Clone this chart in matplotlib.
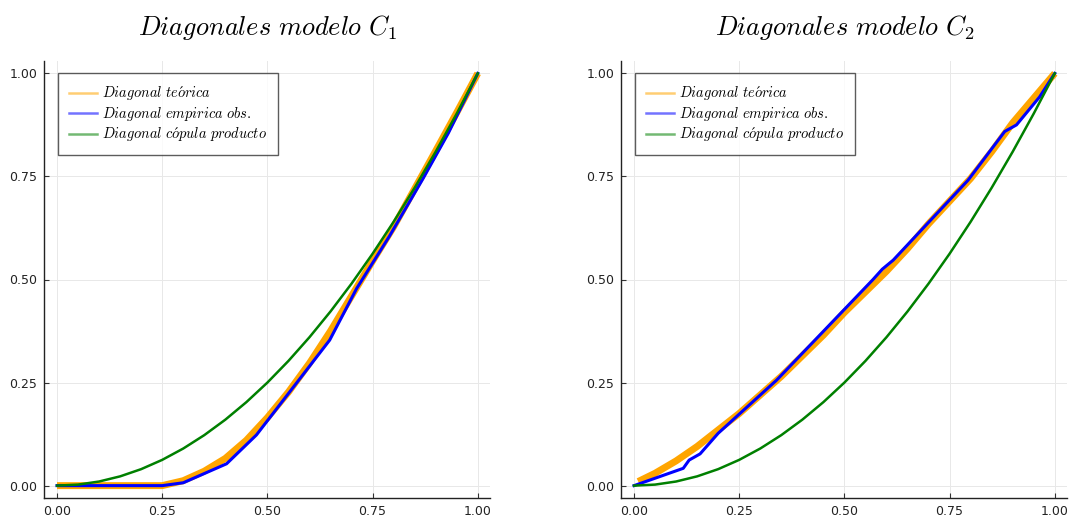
import matplotlib.pyplot as plt
from matplotlib.lines import Line2D

plt.rcParams["mathtext.fontset"] = "cm"
plt.rcParams["font.family"] = "DejaVu Sans"

# grid of t values where the smooth diagonals were read
T_GRID = [0.0, 0.05, 0.10, 0.15, 0.20, 0.25, 0.30, 0.35, 0.40, 0.45, 0.50,
          0.55, 0.60, 0.65, 0.70, 0.75, 0.80, 0.85, 0.90, 0.95, 1.0]

# diagonal of the product copula (same in both panels)
PROD_DIAG = [0.0, 0.0025, 0.01, 0.0225, 0.04, 0.0625, 0.09, 0.1225, 0.16,
             0.2025, 0.25, 0.3025, 0.36, 0.4225, 0.49, 0.5625, 0.64, 0.7225,
             0.81, 0.9025, 1.0]

# model C1
C1_THEO = [0.0, 0.0, 0.0, 0.0, 0.0, 0.0, 0.012, 0.035, 0.066, 0.11, 0.165,
           0.227, 0.297, 0.375, 0.46, 0.545, 0.628, 0.72, 0.812, 0.905, 1.0]
C1_EMP_X = [0.0, 0.25, 0.30, 0.403, 0.474, 0.648, 0.712, 0.79, 0.87, 0.93, 1.0]
C1_EMP_Y = [0.0, 0.0, 0.007, 0.053, 0.123, 0.353, 0.478, 0.605, 0.745, 0.855, 1.0]

# model C2
C2_THEO_X = [0.01, 0.05, 0.10, 0.15, 0.20, 0.25, 0.30, 0.35, 0.40, 0.45, 0.50,
             0.55, 0.60, 0.65, 0.70, 0.75, 0.80, 0.85, 0.90, 0.95, 1.0]
C2_THEO = [0.01, 0.03, 0.06, 0.095, 0.135, 0.175, 0.22, 0.265, 0.315, 0.365,
           0.42, 0.47, 0.52, 0.575, 0.635, 0.69, 0.745, 0.81, 0.88, 0.94, 1.0]
C2_EMP_X = [0.0, 0.117, 0.131, 0.157, 0.20, 0.339, 0.568, 0.59, 0.616, 0.794,
            0.881, 0.909, 0.964, 1.0]
C2_EMP_Y = [0.0, 0.042, 0.062, 0.077, 0.127, 0.256, 0.50, 0.525, 0.547, 0.741,
            0.859, 0.875, 0.943, 1.0]

TICKS = [0.0, 0.25, 0.5, 0.75, 1.0]
TICK_LABELS = ["0.00", "0.25", "0.50", "0.75", "1.00"]

LABELS = [r"$Diagonal\ te\acute{o}rica$",
          r"$Diagonal\ empirica\ obs.$",
          r"$Diagonal\ c\acute{o}pula\ producto$"]
COLORS = ["#FFA500", "#0000FF", "#008000"]

W, H = 1076, 521
fig = plt.figure(figsize=(W / 100, H / 100), dpi=100)


def panel(left_px, title, theo_x, theo_y, emp_x, emp_y):
    ax = fig.add_axes([left_px / W, 1 - 498 / H, 446 / W, 437 / H])
    ax.plot(theo_x, theo_y, color=COLORS[0], lw=5.0, solid_capstyle="butt")
    ax.plot(emp_x, emp_y, color=COLORS[1], lw=2.2)
    ax.plot(T_GRID, PROD_DIAG, color=COLORS[2], lw=1.8)
    ax.set_xlim(-0.03, 1.03)
    ax.set_ylim(-0.03, 1.03)
    ax.set_xticks(TICKS)
    ax.set_xticklabels(TICK_LABELS)
    ax.set_yticks(TICKS)
    ax.set_yticklabels(TICK_LABELS)
    ax.tick_params(direction="in", length=3.6, width=0.8, labelsize=9,
                   color="#333333", labelcolor="#222222", pad=5)
    for s in ("top", "right"):
        ax.spines[s].set_visible(False)
    for s in ("left", "bottom"):
        ax.spines[s].set_color("#222222")
        ax.spines[s].set_linewidth(1.0)
    ax.grid(color="#e8e8e8", lw=0.7)
    ax.set_axisbelow(True)
    ax.set_title(title, fontsize=19, pad=19)

    handles = [Line2D([], [], color=c, lw=1.8, alpha=0.55) for c in COLORS]
    leg = ax.legend(handles, LABELS, loc="upper left",
                    bbox_to_anchor=(14 / 446, 1 - 12.5 / 437), fontsize=10.4,
                    frameon=True, fancybox=False, handlelength=1.9,
                    handletextpad=0.4, labelspacing=0.15, borderpad=0.75,
                    borderaxespad=0)
    leg.get_frame().set_edgecolor("#333333")
    leg.get_frame().set_linewidth(1.0)
    return ax


panel(44.4, r"$Diagonales\ modelo\ C_1$", T_GRID, C1_THEO, C1_EMP_X, C1_EMP_Y)
panel(621.4, r"$Diagonales\ modelo\ C_2$", C2_THEO_X, C2_THEO, C2_EMP_X, C2_EMP_Y)

fig.savefig("out.png", dpi=100)
